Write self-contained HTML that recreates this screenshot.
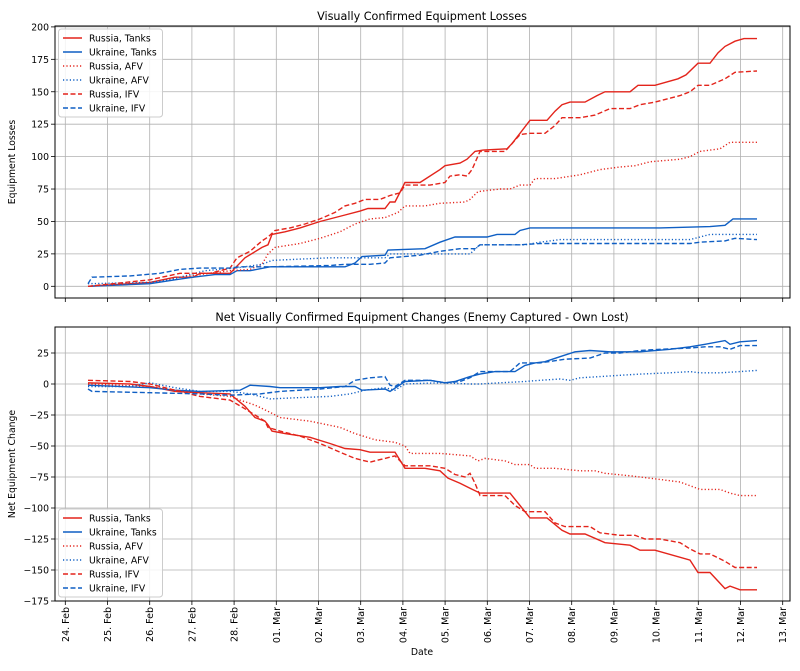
<!DOCTYPE html>
<html><head><meta charset="utf-8"><style>
html,body{margin:0;padding:0;background:#fff;}
svg text{font-family:"DejaVu Sans","Liberation Sans",sans-serif;fill:#000;}
</style></head><body>
<svg id="s" width="800" height="666" xmlns="http://www.w3.org/2000/svg"></svg>
<script>
const R="#e3241b",B="#0f5fc4";
const S=document.getElementById('s');
let h='';
const L=55,Rr=790;
function dx(d){return 65.3+42.2*d;}
const dates=["24. Feb","25. Feb","26. Feb","27. Feb","28. Feb","01. Mar","02. Mar","03. Mar","04. Mar","05. Mar","06. Mar","07. Mar","08. Mar","09. Mar","10. Mar","11. Mar","12. Mar","13. Mar"];
function panel(top,bot,yf,ticks,title,ylabel,series,legTop){
  h+=`<text x="422" y="${top-6}" font-size="11.2" text-anchor="middle">${title}</text>`;
  for(let i=0;i<18;i++){const x=dx(i);h+=`<line x1="${x}" y1="${top}" x2="${x}" y2="${bot}" stroke="#b0b0b0" stroke-width="0.8"/><line x1="${x}" y1="${bot}" x2="${x}" y2="${bot+4}" stroke="#000" stroke-width="0.8"/>`;}
  for(const v of ticks){const y=yf(v);h+=`<line x1="${L}" y1="${y}" x2="${Rr}" y2="${y}" stroke="#b0b0b0" stroke-width="0.8"/><line x1="${L-4}" y1="${y}" x2="${L}" y2="${y}" stroke="#000" stroke-width="0.8"/><text x="${L-6}" y="${y+3.5}" font-size="9.3" text-anchor="end">${v<0?'\u2212'+(-v):v}</text>`;}
  h+=`<text transform="translate(15,${(top+bot)/2}) rotate(-90)" font-size="9.3" text-anchor="middle">${ylabel}</text>`;
  for(const s of series){
    const p=s.d.map(q=>q[0]+','+yf(q[1]).toFixed(1)).join(' ');
    h+=`<polyline points="${p}" fill="none" stroke="${s.c}" stroke-width="1.4" ${s.da?`stroke-dasharray="${s.da}"`:''}/>`;
  }
  h+=`<rect x="${L}" y="${top}" width="${Rr-L}" height="${bot-top}" fill="none" stroke="#000" stroke-width="1"/>`;
  h+=`<rect x="58.5" y="${legTop}" width="104" height="88" rx="3" fill="#fff" fill-opacity="0.85" stroke="#ccc" stroke-width="1"/>`;
  series.forEach((s,i)=>{const y=legTop+9+i*14;h+=`<line x1="63" y1="${y}" x2="82" y2="${y}" stroke="${s.c}" stroke-width="1.4" ${s.da?`stroke-dasharray="${s.da}"`:''}/><text x="89" y="${y+3.5}" font-size="9.3">${s.n}</text>`;});
}
const DOT="1.2,2.2",DASH="5,2.5";
const top1=[
{n:"Russia, Tanks",c:R,d:[[88,0],[150,3],[175,7],[193,7],[200,10],[230,10],[245,22],[262,30],[268,32],[272,40],[285,42],[300,45],[320,50],[345,55],[360,58],[368,60],[385,60],[390,65],[395,65],[405,80],[420,80],[440,90],[445,93],[460,95],[467,98],[475,104],[483,105],[507,106],[512,110],[520,118],[530,128],[547,128],[555,135],[562,140],[570,142],[585,142],[597,147],[605,150],[630,150],[638,155],[655,155],[678,160],[686,163],[698,172],[710,172],[718,180],[725,185],[735,189],[744,191],[757,191]]},
{n:"Ukraine, Tanks",c:B,d:[[88,0],[150,2],[175,5],[193,7],[215,9],[230,9],[237,12],[250,12],[270,15],[345,15],[355,18],[362,23],[385,24],[388,28],[425,29],[440,34],[455,38],[487,38],[497,40],[515,40],[520,43],[530,45],[660,45],[710,46],[725,47],[733,52],[757,52]]},
{n:"Russia, AFV",c:R,da:DOT,d:[[88,0],[150,3],[180,7],[210,10],[230,12],[250,13],[262,17],[268,25],[275,30],[300,33],[320,37],[340,42],[355,48],[370,52],[385,53],[398,57],[405,62],[425,62],[440,64],[465,65],[470,67],[478,73],[500,75],[510,75],[520,78],[530,78],[535,83],[555,83],[580,86],[590,88],[600,90],[620,92],[635,93],[650,96],[680,98],[690,100],[700,104],[720,106],[730,111],[757,111]]},
{n:"Ukraine, AFV",c:B,da:DOT,d:[[88,2],[150,3],[170,5],[185,8],[205,12],[235,14],[245,15],[262,17],[272,20],[300,21],[330,22],[385,22],[390,25],[470,25],[480,32],[525,32],[540,34],[560,36],[690,36],[700,38],[710,40],[757,40]]},
{n:"Russia, IFV",c:R,da:DASH,d:[[88,0],[150,5],[180,10],[210,10],[230,14],[237,22],[250,27],[262,35],[268,38],[275,43],[290,45],[305,48],[320,52],[335,57],[345,62],[355,64],[365,67],[380,67],[390,70],[400,72],[405,78],[430,78],[445,80],[450,85],[460,86],[467,85],[472,90],[480,104],[505,104],[512,110],[520,117],[530,118],[545,118],[555,124],[562,130],[580,130],[595,132],[610,137],[630,137],[640,140],[655,142],[680,147],[690,150],[698,155],[710,155],[725,160],[735,165],[757,166]]},
{n:"Ukraine, IFV",c:B,da:DASH,d:[[88,2],[92,7],[130,8],[160,10],[180,13],[200,14],[230,14],[240,15],[270,15],[330,16],[345,17],[370,17],[385,18],[390,22],[420,24],[440,27],[460,29],[475,29],[480,32],[520,32],[540,33],[690,33],[700,34],[725,35],[735,37],[757,36]]}
];
const bot1=[
{n:"Russia, Tanks",c:R,d:[[88,1],[130,0],[150,-2],[175,-6],[200,-7],[230,-8],[245,-18],[255,-27],[265,-30],[268,-33],[272,-38],[285,-40],[310,-43],[330,-48],[345,-52],[360,-53],[370,-55],[395,-55],[405,-68],[425,-68],[440,-70],[448,-76],[460,-80],[470,-84],[480,-88],[510,-88],[520,-98],[530,-108],[547,-108],[562,-118],[570,-121],[585,-121],[605,-128],[630,-130],[640,-134],[655,-134],[690,-142],[698,-152],[710,-152],[725,-165],[730,-163],[740,-166],[757,-166]]},
{n:"Ukraine, Tanks",c:B,d:[[88,-1],[150,-3],[175,-5],[200,-6],[240,-5],[250,-1],[270,-2],[280,-3],[320,-3],[340,-2],[355,-2],[362,-5],[385,-4],[390,-6],[405,2],[430,3],[445,1],[455,2],[470,6],[480,8],[495,10],[515,10],[525,15],[535,17],[545,18],[560,22],[575,26],[590,27],[610,26],[640,26],[670,28],[690,30],[705,32],[725,35],[730,32],[740,34],[757,35]]},
{n:"Russia, AFV",c:R,da:DOT,d:[[88,0],[150,-2],[175,-5],[200,-8],[230,-10],[240,-13],[255,-17],[268,-22],[280,-27],[310,-30],[340,-35],[355,-40],[375,-45],[395,-47],[405,-50],[410,-56],[440,-56],[470,-58],[478,-62],[485,-60],[505,-62],[515,-65],[530,-65],[535,-68],[555,-68],[580,-70],[595,-70],[605,-72],[630,-74],[650,-76],[680,-79],[690,-82],[700,-85],[720,-85],[730,-88],[740,-90],[757,-90]]},
{n:"Ukraine, AFV",c:B,da:DOT,d:[[88,-2],[130,-2],[150,1],[175,-3],[200,-6],[230,-6],[250,-8],[260,-10],[270,-12],[300,-11],[330,-10],[350,-8],[365,-5],[385,-3],[395,-5],[405,0],[440,1],[470,0],[480,0],[500,1],[525,2],[540,3],[560,4],[570,3],[580,5],[600,6],[620,7],[640,8],[670,9],[690,10],[700,9],[720,9],[740,10],[757,11]]},
{n:"Russia, IFV",c:R,da:DASH,d:[[88,3],[130,2],[150,0],[175,-5],[200,-10],[230,-13],[245,-20],[255,-25],[265,-30],[268,-35],[280,-38],[300,-42],[320,-48],[340,-55],[355,-60],[370,-63],[385,-60],[395,-58],[405,-66],[430,-66],[445,-68],[455,-73],[465,-75],[470,-72],[475,-80],[480,-90],[505,-90],[515,-98],[525,-103],[545,-103],[555,-112],[565,-115],[590,-115],[600,-120],[620,-122],[635,-122],[645,-125],[660,-125],[680,-128],[690,-133],[700,-137],[710,-137],[725,-143],[735,-148],[757,-148]]},
{n:"Ukraine, IFV",c:B,da:DASH,d:[[88,-4],[92,-6],[150,-7],[200,-8],[230,-9],[260,-8],[280,-6],[320,-4],[345,-2],[355,3],[370,5],[385,6],[390,-1],[395,-2],[405,3],[430,3],[445,1],[460,2],[470,5],[480,10],[510,10],[520,17],[540,17],[565,20],[590,21],[605,25],[620,25],[640,27],[660,28],[690,29],[705,30],[720,30],[730,28],[740,31],[757,31]]}
];
panel(26,298,v=>286.3-1.297*v,[0,25,50,75,100,125,150,175,200],"Visually Confirmed Equipment Losses","Equipment Losses",top1,29);
panel(327,601,v=>384-1.24*v,[25,0,-25,-50,-75,-100,-125,-150,-175],"Net Visually Confirmed Equipment Changes (Enemy Captured - Own Lost)","Net Equipment Change",bot1,509);
dates.forEach((t,i)=>{const x=dx(i)+3.5;h+=`<text transform="translate(${x},607) rotate(-90)" font-size="9.5" text-anchor="end">${t}</text>`;});
h+=`<text x="422" y="655" font-size="9.3" text-anchor="middle">Date</text>`;
S.innerHTML=h;
</script>
</body></html>
